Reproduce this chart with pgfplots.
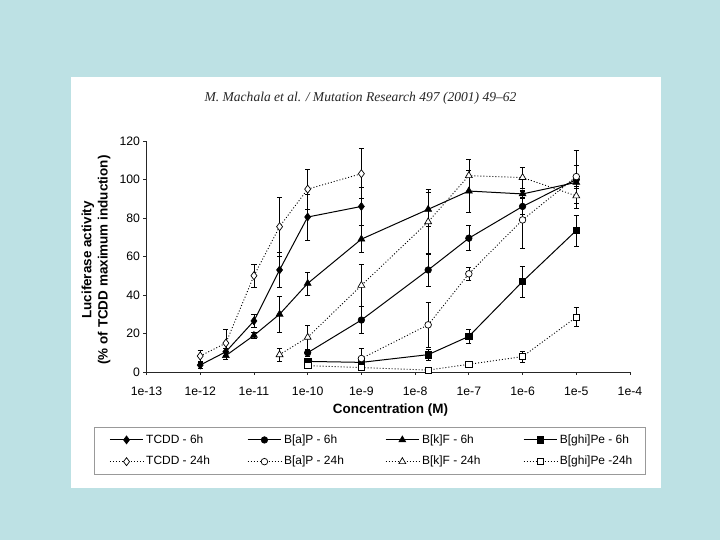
\documentclass[border=0pt]{standalone}
\usepackage{pgfplots}
\usepackage{pgfplotstable}
\pgfplotsset{compat=1.18}
\usepackage{fontspec}
\setmainfont{Liberation Sans}
\newfontfamily\hdrfont{Liberation Serif}
\definecolor{bgteal}{RGB}{189,225,228}
\definecolor{bglight}{RGB}{230,245,246}

\pgfplotstableread{
x y e
1e-12 3.6 1.5
3e-12 10.5 2
1e-11 26.5 3.5
3e-11 53 9
1e-10 80.5 12
1e-9 86 10
}\tcddsix
\pgfplotstableread{
x y e
1e-10 10 2
1e-9 27 7
1.75e-8 53 8.5
1e-7 69.5 6.5
1e-6 86 4
1e-5 100 15
}\bapsix
\pgfplotstableread{
x y e
3e-12 8.5 2
1e-11 19 1.5
3e-11 30 9.5
1e-10 46 6
1e-9 69 7
1.75e-8 84.5 9
1e-7 94 11
1e-6 92.5 2
1e-5 98.5 2
}\bkfsix
\pgfplotstableread{
x y e
1e-10 5.5 1
1e-9 5 1
1.75e-8 9 3
1e-7 18.5 3.5
1e-6 47 8
1e-5 73.5 8
}\bghisix
\pgfplotstableread{
x y e
1e-12 8.3 3
3e-12 15 7
1e-11 50 6
3e-11 75.5 15.5
1e-10 95 10.5
1e-9 103 13
}\tcddtf
\pgfplotstableread{
x y e
1e-9 7 5.5
1.75e-8 24.5 11.5
1e-7 51 3.5
1e-6 79 15
1e-5 101.5 6
}\baptf
\pgfplotstableread{
x y e
3e-11 9 3.5
1e-10 18 6.5
1e-9 45 11
1.75e-8 78 17
1e-7 102 8.5
1e-6 101 5.5
1e-5 91.5 4
}\bkftf
\pgfplotstableread{
x y e
1e-10 3.3 1
1e-9 2.3 1
1.75e-8 1 1
1e-7 4 1
1e-6 8 3
1e-5 28.5 5
}\bghitf

\pgfplotsset{
  six/.style={black, line width=1bp, mark options={solid, fill=black, line width=0.6bp}},
  tf/.style={black, line width=0.9bp, dash pattern=on 1bp off 2bp, mark options={solid, fill=white, line width=0.7bp}},
}

\begin{document}
\begin{tikzpicture}[x=1bp,y=1bp]
\useasboundingbox (0,0) rectangle (720,540);
\shade[top color=bgteal, middle color=bglight, bottom color=bgteal] (0,0) rectangle (720,540);
\fill[white] (71,52) rectangle (661,462.5);
\node[anchor=base, font=\hdrfont\itshape\fontsize{13.6}{15}\selectfont, text=black!85, inner sep=0]
  at (360.5,438.3) {M. Machala et al. / Mutation Research 497 (2001) 49–62};
\begin{axis}[
  at={(146.5bp,168bp)}, anchor=south west, scale only axis,
  width=483.5bp, height=231bp,
  xmode=log, xmin=1e-13, xmax=1e-4, ymin=0, ymax=120,
  axis x line*=bottom, axis y line*=left,
  axis line style={line width=0.7bp, black!85},
  xtick={1e-13,1e-12,1e-11,1e-10,1e-9,1e-8,1e-7,1e-6,1e-5,1e-4},
  xticklabels={1e-13,1e-12,1e-11,1e-10,1e-9,1e-8,1e-7,1e-6,1e-5,1e-4},
  xminorticks=false,
  ytick={0,20,...,120},
  tick align=outside, major tick length=3bp,
  tick style={line width=0.7bp, black!85},
  /pgf/number format/assume math mode=true,
  tick label style={font=\fontsize{12.3}{14}\selectfont},
  xticklabel style={yshift=-8.5bp},
  clip=false,
  xlabel={Concentration (M)},
  xlabel style={at={(axis description cs:0.5047,-0.1645)}, anchor=center, font=\bfseries\fontsize{13.5}{16}\selectfont},
  ylabel={Luciferase activity\\(\% of TCDD maximum induction)},
  ylabel style={at={(axis description cs:-0.1044,0.485)}, anchor=center, align=center, font=\bfseries\fontsize{13.5}{16.5}\selectfont},
  error bars/y dir=both, error bars/y explicit,
  error bars/error bar style={line width=0.6bp, solid},
  error bars/error mark options={rotate=90, mark size=2.6bp, line width=0.6bp, solid},
  legend columns=4,
  legend cell align=left,
  legend image code/.code={
    \draw[mark repeat=2, mark phase=2, #1] plot coordinates {(0bp,0bp) (16.7bp,0bp) (33.4bp,0bp)};
  },
  legend style={at={(axis description cs:-0.1084,-0.2368)}, anchor=north west,
    draw=black!40, line width=0.9bp, inner xsep=14.8bp, inner ysep=5.3bp,
    row sep=6.7bp, font=\fontsize{12}{14}\selectfont,
    nodes={inner sep=2bp, text height=8.6bp, text depth=2.4bp},
    /tikz/every odd column/.append style={column sep=0.5bp},
    /tikz/every even column/.append style={column sep=0bp}},
]
\addplot[six, mark=diamond*, mark size=4bp] table[x=x, y=y, y error=e] {\tcddsix};
\addlegendentry{\makebox[99bp][l]{TCDD - 6h}}
\addplot[six, mark=*, mark size=3.3bp] table[x=x, y=y, y error=e] {\bapsix};
\addlegendentry{\makebox[99bp][l]{B[a]P - 6h}}
\addplot[six, mark=triangle*, mark size=4bp] table[x=x, y=y, y error=e] {\bkfsix};
\addlegendentry{\makebox[99bp][l]{B[k]F - 6h}}
\addplot[six, mark=square*, mark size=3.2bp] table[x=x, y=y, y error=e] {\bghisix};
\addlegendentry{\makebox[68.8bp][l]{B[ghi]Pe - 6h}}
\addplot[tf, mark=diamond*, mark size=4bp] table[x=x, y=y, y error=e] {\tcddtf};
\addlegendentry{\makebox[99bp][l]{TCDD - 24h}}
\addplot[tf, mark=*, mark size=3.3bp] table[x=x, y=y, y error=e] {\baptf};
\addlegendentry{\makebox[99bp][l]{B[a]P - 24h}}
\addplot[tf, mark=triangle*, mark size=4bp] table[x=x, y=y, y error=e] {\bkftf};
\addlegendentry{\makebox[99bp][l]{B[k]F - 24h}}
\addplot[tf, mark=square*, mark size=3.2bp] table[x=x, y=y, y error=e] {\bghitf};
\addlegendentry{\makebox[68.8bp][l]{B[ghi]Pe -24h}}
\end{axis}
\end{tikzpicture}
\end{document}
